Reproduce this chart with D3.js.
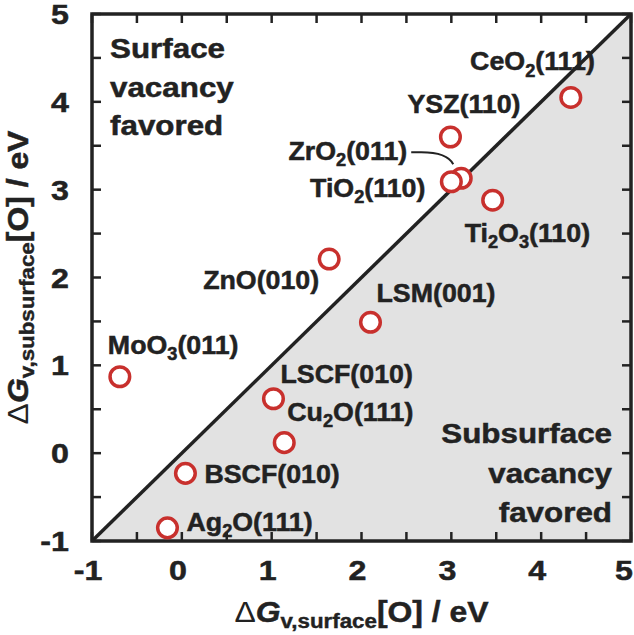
<!DOCTYPE html>
<html><head><meta charset="utf-8">
<script src="https://cdn.jsdelivr.net/npm/d3@7"></script>
<style>html,body{margin:0;padding:0;background:#fff;}svg{display:block;font-family:"Liberation Sans",Arial,sans-serif;}</style>
</head><body>
<svg id="chart" width="634" height="635"></svg>
<script>
// ---- data ----
const materials = ["CeO_2(111)", "YSZ(110)", "ZrO_2(011)", "TiO_2(110)", "Ti_2O_3(110)", "ZnO(010)",
                   "LSM(001)", "MoO_3(011)", "LSCF(010)", "Cu_2O(111)", "BSCF(010)", "Ag_2O(111)"];
const surfaceValues    = [4.33, 2.99, 3.11, 3.00, 3.46, 1.64, 2.10, -0.69, 1.02, 1.14, 0.04, -0.16];
const subsurfaceValues = [4.05, 3.60, 3.13, 3.09, 2.88, 2.21, 1.49, 0.87, 0.62, 0.12, -0.23, -0.85];
const xTickLabels = [-1, 0, 1, 2, 3, 4, 5];
const yTickLabels = [-1, 0, 1, 2, 3, 4, 5];
const regionTopLeft = ["Surface", "vacancy", "favored"];
const regionBottomRight = ["Subsurface", "vacancy", "favored"];

// ---- layout ----
const pLeft = 92, pRight = 631, pTop = 14, pBottom = 541;
const SX = 1.1;
const ink = "#222";
const x = d3.scaleLinear().domain([-1, 5]).range([pLeft, pRight]);
const y = d3.scaleLinear().domain([-1, 5]).range([pBottom, pTop]);
const svg = d3.select("#chart");

function richText(g, px, py, str, size, anchor, opts = {}) {
  const t = g.append("text")
    .attr("transform", `translate(${px},${py})${opts.rotate ? " rotate(" + opts.rotate + ")" : ""} scale(${opts.sx || SX},1)`)
    .attr("text-anchor", anchor)
    .style("font-size", size + "px")
    .style("font-weight", "bold")
    .attr("fill", ink).attr("stroke", ink).attr("stroke-width", 0.5);
  const parts = str.split(/(_\d)/).filter(s => s.length);
  const sh = size * 0.24;
  let shifted = false;
  parts.forEach(p => {
    if (p[0] === "_") {
      t.append("tspan").text(p.slice(1)).style("font-size", (size * 0.68) + "px").attr("dy", sh);
      shifted = true;
    } else {
      const ts = t.append("tspan").text(p);
      if (shifted) { ts.attr("dy", -sh); shifted = false; }
    }
  });
  return t;
}

// shaded region (below the diagonal)
const tri = [[-1, -1], [5, 5], [5, -1]];
svg.append("path")
  .attr("d", d3.line().x(d => x(d[0])).y(d => y(d[1]))(tri) + "Z")
  .attr("fill", "#e2e2e2");

// diagonal
svg.append("line")
  .attr("x1", x(-1)).attr("y1", y(-1)).attr("x2", x(5)).attr("y2", y(5))
  .attr("stroke", ink).attr("stroke-width", 3.5);

// ticks (inward on all four sides)
const minor = d3.range(-1, 5.01, 0.5);
const tickG = svg.append("g").attr("stroke", ink).attr("stroke-width", 2.5);
minor.forEach(v => {
  tickG.append("line").attr("x1", x(v)).attr("x2", x(v)).attr("y1", pBottom).attr("y2", pBottom - 9);
  tickG.append("line").attr("x1", x(v)).attr("x2", x(v)).attr("y1", pTop).attr("y2", pTop + 9);
  tickG.append("line").attr("y1", y(v)).attr("y2", y(v)).attr("x1", pLeft).attr("x2", pLeft + 9);
  tickG.append("line").attr("y1", y(v)).attr("y2", y(v)).attr("x1", pRight).attr("x2", pRight - 9);
});

// frame
svg.append("rect").attr("x", pLeft).attr("y", pTop).attr("width", pRight - pLeft).attr("height", pBottom - pTop)
  .attr("fill", "none").attr("stroke", ink).attr("stroke-width", 3.5);

// tick labels
const tickSize = 28;
xTickLabels.forEach(v => richText(svg, Math.min(x(v) - 4, 624), 580, String(v), tickSize, "middle", {sx: 1.15}));
yTickLabels.forEach(v => richText(svg, 69, y(v) + 10, String(v), tickSize, "end", {sx: 1.15}));

// axis titles
function axisTitle(px, py, sub, rotate) {
  const size = 29;
  const t = svg.append("text")
    .attr("transform", `translate(${px},${py})${rotate ? " rotate(" + rotate + ")" : ""} scale(${SX},1)`)
    .attr("text-anchor", "middle").style("font-size", size + "px").attr("fill", ink);
  t.append("tspan").text("Δ").style("font-weight", "normal");
  t.append("tspan").text("G").style("font-weight", "bold").style("font-style", "italic").attr("stroke", ink).attr("stroke-width", 0.5);
  t.append("tspan").text(sub).style("font-weight", "bold").style("font-size", (size * 0.7) + "px").attr("dy", 6).attr("stroke", ink).attr("stroke-width", 0.4);
  t.append("tspan").text("[O] / eV").style("font-weight", "bold").attr("dy", -6).attr("stroke", ink).attr("stroke-width", 0.5);
}
axisTitle((pLeft + pRight) / 2, 622, "v,surface", 0);
axisTitle(28, (pTop + pBottom) / 2, "v,subsurface", -90);

// region annotations
regionTopLeft.forEach((s, i) => richText(svg, 110, 58 + i * 38.5, s, 28, "start", {sx: 1.12}));
regionBottomRight.forEach((s, i) => richText(svg, 612, 443 + i * 39.5, s, 28, "end", {sx: 1.12}));

// data points
const pts = materials.map((m, i) => ({name: m, sx: surfaceValues[i], sy: subsurfaceValues[i]}));
svg.append("g").selectAll("circle").data(pts).join("circle")
  .attr("cx", d => x(d.sx)).attr("cy", d => y(d.sy)).attr("r", 9.8)
  .attr("fill", "#fff").attr("stroke", "#c8302d").attr("stroke-width", 3.5);

// point labels: offsets (px) from the marker centre
const labelLayout = {
  "CeO_2(111)":   {dx: 24,  dy: -27, a: "end"},
  "YSZ(110)":     {dx: -43, dy: -24, a: "start"},
  "ZrO_2(011)":   {dx: -54, dy: -18, a: "end"},
  "TiO_2(110)":   {dx: -26, dy: 15,  a: "end"},
  "Ti_2O_3(110)": {dx: -28, dy: 42,  a: "start"},
  "ZnO(010)":     {dx: -10, dy: 30,  a: "end"},
  "LSM(001)":     {dx: 6,   dy: -20, a: "start"},
  "MoO_3(011)":   {dx: -12, dy: -23, a: "start"},
  "LSCF(010)":    {dx: 7,   dy: -16, a: "start"},
  "Cu_2O(111)":   {dx: 3,   dy: -22, a: "start"},
  "BSCF(010)":    {dx: 19,  dy: 10,  a: "start"},
  "Ag_2O(111)":   {dx: 19,  dy: 3,   a: "start"}
};
const labG = svg.append("g");
pts.forEach(d => {
  const L = labelLayout[d.name];
  richText(labG, x(d.sx) + L.dx, y(d.sy) + L.dy, d.name, 26, L.a, {sx: 1.03});
});

// leader line for ZrO2(011)
const zr = pts.find(d => d.name === "ZrO_2(011)");
const zx = x(zr.sx), zy = y(zr.sy);
svg.append("path")
  .attr("d", `M${zx - 50},${zy - 26} L${zx - 40},${zy - 26} Q${zx - 14},${zy - 26} ${zx - 8},${zy - 14}`)
  .attr("fill", "none").attr("stroke", ink).attr("stroke-width", 2);
</script>
</body></html>
